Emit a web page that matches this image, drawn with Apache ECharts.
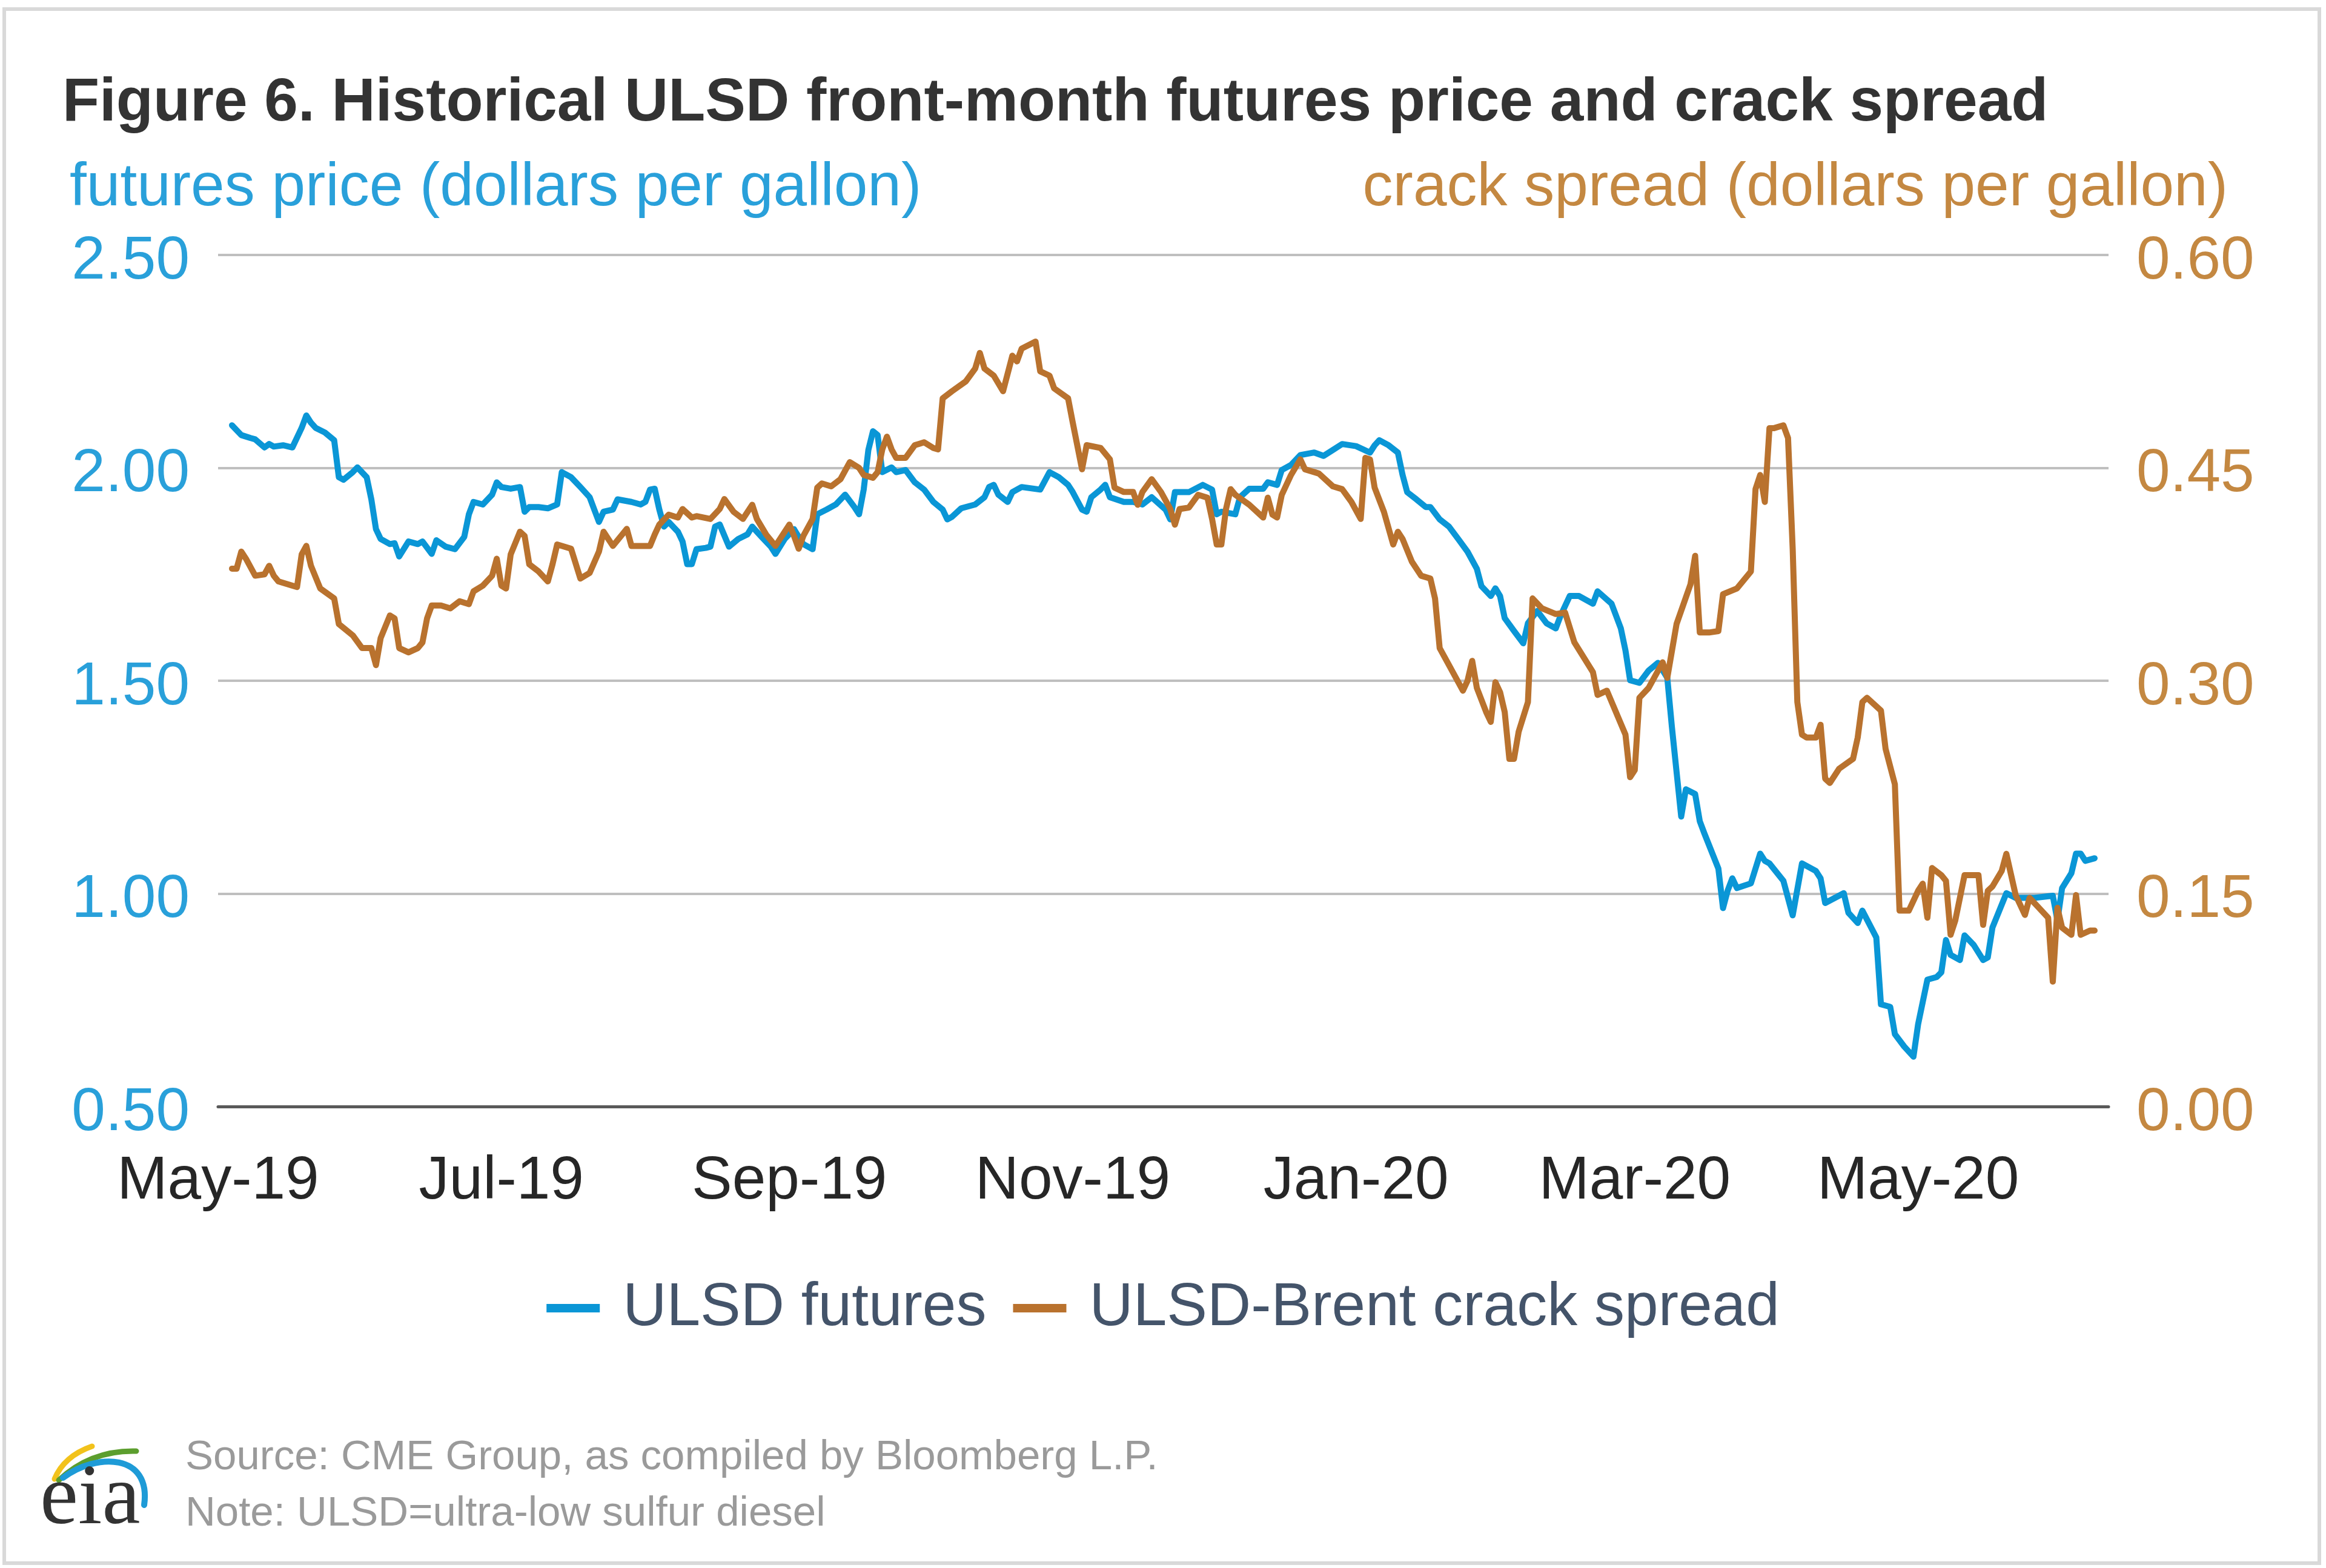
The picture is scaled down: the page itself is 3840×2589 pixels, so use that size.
<!DOCTYPE html>
<html>
<head>
<meta charset="utf-8">
<script src="https://cdn.jsdelivr.net/npm/echarts@6/dist/echarts.min.js"></script>
<style>
html,body{margin:0;padding:0;background:#ffffff;}
#chart{width:3840px;height:2589px;}
</style>
</head>
<body>
<div id="chart"></div>
<script>
// ---------- data ----------
const axisStart = '2019-05-01';
const axisEnd = '2020-06-11';
const monthNames = ['Jan','Feb','Mar','Apr','May','Jun','Jul','Aug','Sep','Oct','Nov','Dec'];
const labelMonths = [5, 7, 9, 11, 1, 3];           // May, Jul, Sep, Nov, Jan, Mar
const priceTicks = [0.5, 1.0, 1.5, 2.0, 2.5];      // left axis (dollars per gallon)
const crackTicks = [0, 0.15, 0.30, 0.45, 0.60];    // right axis (dollars per gallon)

const ulsdFutures = [
['2019-05-04',2.10],['2019-05-06',2.077],['2019-05-08',2.07],['2019-05-09',2.067],['2019-05-11',2.048],
['2019-05-12',2.056],['2019-05-13',2.05],['2019-05-15',2.053],['2019-05-17',2.048],['2019-05-19',2.094],
['2019-05-20',2.123],['2019-05-21',2.106],['2019-05-22',2.094],['2019-05-24',2.083],['2019-05-26',2.065],
['2019-05-27',1.978],['2019-05-28',1.972],['2019-05-30',1.99],['2019-05-31',2.001],['2019-06-02',1.978],
['2019-06-03',1.926],['2019-06-04',1.856],['2019-06-05',1.833],['2019-06-07',1.821],['2019-06-08',1.823],
['2019-06-09',1.792],['2019-06-11',1.827],['2019-06-13',1.821],['2019-06-14',1.827],['2019-06-16',1.798],
['2019-06-17',1.83],['2019-06-19',1.815],['2019-06-21',1.809],['2019-06-23',1.838],['2019-06-24',1.891],
['2019-06-25',1.92],['2019-06-27',1.914],['2019-06-29',1.937],['2019-06-30',1.966],['2019-07-01',1.955],
['2019-07-03',1.951],['2019-07-05',1.955],['2019-07-06',1.897],['2019-07-07',1.908],['2019-07-09',1.908],
['2019-07-11',1.905],['2019-07-13',1.914],['2019-07-14',1.99],['2019-07-16',1.978],['2019-07-18',1.955],
['2019-07-20',1.931],['2019-07-21',1.902],['2019-07-22',1.873],['2019-07-23',1.897],['2019-07-25',1.902],
['2019-07-26',1.926],['2019-07-29',1.92],['2019-07-31',1.914],['2019-08-01',1.92],['2019-08-02',1.949],
['2019-08-03',1.951],['2019-08-04',1.902],['2019-08-05',1.862],['2019-08-06',1.873],['2019-08-08',1.85],
['2019-08-09',1.827],['2019-08-10',1.774],['2019-08-11',1.774],['2019-08-12',1.809],['2019-08-14',1.812],
['2019-08-15',1.815],['2019-08-16',1.862],['2019-08-17',1.867],['2019-08-19',1.815],['2019-08-21',1.833],
['2019-08-23',1.844],['2019-08-24',1.862],['2019-08-26',1.838],['2019-08-28',1.815],['2019-08-29',1.798],
['2019-08-31',1.833],['2019-09-02',1.856],['2019-09-03',1.838],['2019-09-04',1.821],['2019-09-06',1.809],
['2019-09-07',1.891],['2019-09-09',1.902],['2019-09-11',1.914],['2019-09-13',1.937],['2019-09-15',1.908],
['2019-09-16',1.891],['2019-09-17',1.949],['2019-09-18',2.042],['2019-09-19',2.086],['2019-09-20',2.077],
['2019-09-21',1.99],['2019-09-23',2.001],['2019-09-24',1.99],['2019-09-26',1.995],['2019-09-28',1.966],
['2019-09-30',1.949],['2019-10-02',1.92],['2019-10-04',1.902],['2019-10-05',1.879],['2019-10-06',1.885],
['2019-10-08',1.905],['2019-10-11',1.914],['2019-10-13',1.931],['2019-10-14',1.955],['2019-10-15',1.96],
['2019-10-16',1.937],['2019-10-18',1.92],['2019-10-19',1.943],['2019-10-21',1.955],['2019-10-25',1.949],
['2019-10-27',1.99],['2019-10-29',1.978],['2019-10-31',1.96],['2019-11-01',1.943],['2019-11-03',1.902],
['2019-11-04',1.897],['2019-11-05',1.931],['2019-11-07',1.949],['2019-11-08',1.96],['2019-11-09',1.931],
['2019-11-12',1.92],['2019-11-14',1.92],['2019-11-16',1.914],['2019-11-18',1.931],['2019-11-21',1.902],
['2019-11-22',1.879],['2019-11-23',1.943],['2019-11-26',1.943],['2019-11-29',1.96],['2019-12-01',1.949],
['2019-12-02',1.891],['2019-12-03',1.897],['2019-12-06',1.891],['2019-12-07',1.931],['2019-12-09',1.951],
['2019-12-12',1.951],['2019-12-13',1.966],['2019-12-15',1.96],['2019-12-16',1.995],['2019-12-18',2.007],
['2019-12-20',2.03],['2019-12-23',2.036],['2019-12-25',2.028],['2019-12-27',2.042],['2019-12-29',2.056],
['2020-01-01',2.051],['2020-01-04',2.036],['2020-01-05',2.053],['2020-01-06',2.065],['2020-01-08',2.053],
['2020-01-10',2.036],['2020-01-11',1.984],['2020-01-12',1.943],['2020-01-14',1.926],['2020-01-16',1.908],
['2020-01-17',1.908],['2020-01-19',1.879],['2020-01-21',1.862],['2020-01-23',1.833],['2020-01-25',1.803],
['2020-01-27',1.763],['2020-01-28',1.722],['2020-01-30',1.699],['2020-01-31',1.717],['2020-02-01',1.699],
['2020-02-02',1.647],['2020-02-04',1.617],['2020-02-06',1.588],['2020-02-07',1.635],['2020-02-09',1.664],
['2020-02-11',1.635],['2020-02-13',1.623],['2020-02-14',1.652],['2020-02-16',1.699],['2020-02-18',1.699],
['2020-02-21',1.681],['2020-02-22',1.71],['2020-02-25',1.681],['2020-02-27',1.623],['2020-02-28',1.571],
['2020-02-29',1.501],['2020-03-02',1.495],['2020-03-04',1.524],['2020-03-06',1.542],['2020-03-08',1.507],
['2020-03-09',1.391],['2020-03-10',1.286],['2020-03-11',1.181],['2020-03-12',1.245],['2020-03-14',1.234],
['2020-03-15',1.17],['2020-03-16',1.141],['2020-03-19',1.059],['2020-03-20',0.966],['2020-03-21',1.007],
['2020-03-22',1.036],['2020-03-23',1.013],['2020-03-26',1.024],['2020-03-28',1.094],['2020-03-29',1.077],
['2020-03-30',1.071],['2020-04-02',1.03],['2020-04-04',0.949],['2020-04-06',1.071],['2020-04-09',1.053],
['2020-04-10',1.036],['2020-04-11',0.978],['2020-04-15',1.001],['2020-04-16',0.955],['2020-04-18',0.931],
['2020-04-19',0.96],['2020-04-22',0.897],['2020-04-23',0.74],['2020-04-25',0.734],['2020-04-26',0.67],
['2020-04-28',0.641],['2020-04-30',0.617],['2020-05-01',0.693],['2020-05-03',0.798],['2020-05-05',0.804],
['2020-05-06',0.815],['2020-05-07',0.891],['2020-05-08',0.856],['2020-05-10',0.844],['2020-05-11',0.902],
['2020-05-13',0.879],['2020-05-15',0.844],['2020-05-16',0.85],['2020-05-17',0.92],['2020-05-20',1.001],
['2020-05-22',0.99],['2020-05-26',0.99],['2020-05-30',0.995],['2020-05-31',0.937],['2020-06-01',1.013],
['2020-06-03',1.048],['2020-06-04',1.094],['2020-06-05',1.094],['2020-06-06',1.077],['2020-06-08',1.083]
];

const crackSpread = [
['2019-05-04',0.379],['2019-05-05',0.379],['2019-05-06',0.391],['2019-05-07',0.386],['2019-05-09',0.374],
['2019-05-11',0.375],['2019-05-12',0.381],['2019-05-13',0.374],['2019-05-14',0.37],['2019-05-17',0.367],
['2019-05-18',0.366],['2019-05-19',0.389],['2019-05-20',0.395],['2019-05-21',0.381],['2019-05-23',0.365],
['2019-05-26',0.358],['2019-05-27',0.34],['2019-05-30',0.332],['2019-06-01',0.323],['2019-06-03',0.323],
['2019-06-04',0.311],['2019-06-05',0.33],['2019-06-07',0.346],['2019-06-08',0.344],['2019-06-09',0.323],
['2019-06-11',0.32],['2019-06-13',0.323],['2019-06-14',0.327],['2019-06-15',0.344],['2019-06-16',0.353],
['2019-06-18',0.353],['2019-06-20',0.351],['2019-06-22',0.356],['2019-06-24',0.354],['2019-06-25',0.363],
['2019-06-27',0.367],['2019-06-29',0.374],['2019-06-30',0.386],['2019-07-01',0.367],['2019-07-02',0.365],
['2019-07-03',0.389],['2019-07-05',0.405],['2019-07-06',0.402],['2019-07-07',0.382],['2019-07-09',0.377],
['2019-07-11',0.37],['2019-07-12',0.382],['2019-07-13',0.396],['2019-07-16',0.393],['2019-07-18',0.372],
['2019-07-20',0.376],['2019-07-22',0.391],['2019-07-23',0.405],['2019-07-24',0.40],['2019-07-25',0.395],
['2019-07-27',0.403],['2019-07-28',0.407],['2019-07-29',0.395],['2019-07-31',0.395],['2019-08-02',0.395],
['2019-08-03',0.403],['2019-08-04',0.41],['2019-08-06',0.417],['2019-08-08',0.415],['2019-08-09',0.421],
['2019-08-11',0.415],['2019-08-12',0.416],['2019-08-15',0.414],['2019-08-17',0.421],['2019-08-18',0.428],
['2019-08-20',0.419],['2019-08-22',0.414],['2019-08-24',0.424],['2019-08-25',0.414],['2019-08-27',0.403],
['2019-08-29',0.395],['2019-08-31',0.405],['2019-09-01',0.41],['2019-09-02',0.402],['2019-09-03',0.393],
['2019-09-04',0.402],['2019-09-06',0.414],['2019-09-07',0.436],['2019-09-08',0.439],['2019-09-10',0.437],
['2019-09-12',0.442],['2019-09-14',0.454],['2019-09-16',0.45],['2019-09-17',0.445],['2019-09-19',0.443],
['2019-09-20',0.447],['2019-09-21',0.463],['2019-09-22',0.472],['2019-09-23',0.463],['2019-09-24',0.457],
['2019-09-26',0.457],['2019-09-28',0.466],['2019-09-29',0.467],['2019-09-30',0.468],['2019-10-02',0.464],
['2019-10-03',0.463],['2019-10-04',0.499],['2019-10-06',0.504],['2019-10-09',0.511],['2019-10-11',0.52],
['2019-10-12',0.531],['2019-10-13',0.52],['2019-10-15',0.515],['2019-10-17',0.504],['2019-10-19',0.529],
['2019-10-20',0.525],['2019-10-21',0.534],['2019-10-24',0.539],['2019-10-25',0.518],['2019-10-27',0.515],
['2019-10-28',0.506],['2019-10-31',0.499],['2019-11-01',0.482],['2019-11-03',0.449],['2019-11-04',0.466],
['2019-11-07',0.464],['2019-11-09',0.456],['2019-11-10',0.436],['2019-11-12',0.433],['2019-11-14',0.433],
['2019-11-15',0.424],['2019-11-16',0.433],['2019-11-18',0.442],['2019-11-20',0.433],['2019-11-22',0.421],
['2019-11-23',0.41],['2019-11-24',0.421],['2019-11-26',0.422],['2019-11-28',0.431],['2019-11-30',0.429],
['2019-12-01',0.414],['2019-12-02',0.396],['2019-12-03',0.396],['2019-12-04',0.421],['2019-12-05',0.435],
['2019-12-06',0.431],['2019-12-09',0.424],['2019-12-12',0.415],['2019-12-13',0.429],['2019-12-14',0.417],
['2019-12-15',0.415],['2019-12-16',0.431],['2019-12-18',0.445],['2019-12-20',0.456],['2019-12-21',0.449],
['2019-12-24',0.446],['2019-12-27',0.437],['2019-12-29',0.435],['2019-12-31',0.426],['2020-01-02',0.414],
['2020-01-03',0.457],['2020-01-04',0.456],['2020-01-05',0.436],['2020-01-07',0.419],['2020-01-09',0.396],
['2020-01-10',0.405],['2020-01-11',0.40],['2020-01-13',0.384],['2020-01-15',0.374],['2020-01-17',0.372],
['2020-01-18',0.358],['2020-01-19',0.323],['2020-01-21',0.311],['2020-01-24',0.293],['2020-01-25',0.30],
['2020-01-26',0.314],['2020-01-27',0.295],['2020-01-29',0.278],['2020-01-30',0.271],['2020-01-31',0.299],
['2020-02-01',0.292],['2020-02-02',0.278],['2020-02-03',0.245],['2020-02-04',0.245],['2020-02-05',0.264],
['2020-02-07',0.285],['2020-02-08',0.358],['2020-02-10',0.351],['2020-02-13',0.347],['2020-02-15',0.348],
['2020-02-17',0.327],['2020-02-21',0.306],['2020-02-22',0.29],['2020-02-24',0.293],['2020-02-28',0.262],
['2020-02-29',0.232],['2020-03-01',0.237],['2020-03-02',0.288],['2020-03-04',0.295],['2020-03-07',0.313],
['2020-03-08',0.302],['2020-03-10',0.34],['2020-03-13',0.368],['2020-03-14',0.388],['2020-03-15',0.334],
['2020-03-17',0.334],['2020-03-19',0.335],['2020-03-20',0.361],['2020-03-23',0.365],['2020-03-26',0.377],
['2020-03-27',0.435],['2020-03-28',0.445],['2020-03-29',0.426],['2020-03-30',0.478],['2020-03-31',0.478],
['2020-04-02',0.48],['2020-04-03',0.471],['2020-04-04',0.393],['2020-04-05',0.285],['2020-04-06',0.262],
['2020-04-07',0.26],['2020-04-09',0.26],['2020-04-10',0.269],['2020-04-11',0.231],['2020-04-12',0.228],
['2020-04-14',0.238],['2020-04-17',0.245],['2020-04-18',0.26],['2020-04-19',0.285],['2020-04-20',0.288],
['2020-04-23',0.279],['2020-04-24',0.252],['2020-04-26',0.227],['2020-04-27',0.138],['2020-04-29',0.138],
['2020-05-01',0.152],['2020-05-02',0.157],['2020-05-03',0.133],['2020-05-04',0.168],['2020-05-06',0.163],
['2020-05-07',0.159],['2020-05-08',0.121],['2020-05-09',0.131],['2020-05-11',0.163],['2020-05-14',0.163],
['2020-05-15',0.128],['2020-05-16',0.152],['2020-05-17',0.155],['2020-05-19',0.166],['2020-05-20',0.178],
['2020-05-22',0.149],['2020-05-24',0.135],['2020-05-25',0.147],['2020-05-27',0.14],['2020-05-29',0.133],
['2020-05-30',0.088],['2020-05-31',0.14],['2020-06-01',0.126],['2020-06-03',0.121],['2020-06-04',0.149],
['2020-06-05',0.121],['2020-06-07',0.124],['2020-06-08',0.124]
];

// ---------- build daily category axis ----------
const DAY = 86400000;
const categories = [];
for (let t = Date.parse(axisStart + 'T00:00:00Z'); t <= Date.parse(axisEnd + 'T00:00:00Z'); t += DAY) {
  categories.push(new Date(t).toISOString().slice(0, 10));
}
function align(pairs) {
  const m = new Map(pairs);
  return categories.map(d => (m.has(d) ? m.get(d) : null));
}

const FONT = '"Liberation Sans", Arial, Helvetica, sans-serif';
const BLUE_LINE = '#0A96D6';
const BLUE_TEXT = '#29A0DA';
const ORANGE_LINE = '#B9722E';
const ORANGE_TEXT = '#C48841';

const chart = echarts.init(document.getElementById('chart'), null, {renderer: 'canvas'});
chart.setOption({
  animation: false,
  backgroundColor: '#ffffff',
  title: [
    {text: 'Figure 6. Historical ULSD front-month futures price and crack spread', left: 98, top: 116,
     textStyle: {fontFamily: FONT, fontSize: 100, fontWeight: 'bold', color: '#333333'}},
    {text: 'futures price (dollars per gallon)', left: 110, top: 256,
     textStyle: {fontFamily: FONT, fontSize: 100, fontWeight: 'normal', color: BLUE_TEXT}},
    {text: 'crack spread (dollars per gallon)', right: 157, top: 256,
     textStyle: {fontFamily: FONT, fontSize: 100, fontWeight: 'normal', color: ORANGE_TEXT}},
    {text: 'Source: CME Group, as compiled by Bloomberg L.P.', left: 301, top: 2367,
     textStyle: {fontFamily: FONT, fontSize: 69, fontWeight: 'normal', color: '#9A9A9A'}},
    {text: 'Note: ULSD=ultra-low sulfur diesel', left: 301, top: 2460,
     textStyle: {fontFamily: FONT, fontSize: 69, fontWeight: 'normal', color: '#9A9A9A'}}
  ],
  legend: {
    top: 2105, left: 'center', icon: 'rect', itemWidth: 88, itemHeight: 14, itemGap: 44,
    textStyle: {fontFamily: FONT, fontSize: 100, color: '#44546A', padding: [0, 0, 0, 33]},
    data: ['ULSD futures', 'ULSD-Brent crack spread']
  },
  grid: {left: 360, right: 359, top: 421, bottom: 762, containLabel: false, outerBoundsMode: 'none'},
  xAxis: {
    type: 'category', data: categories, boundaryGap: false,
    axisLine: {show: true, lineStyle: {color: '#595959', width: 5}},
    axisTick: {show: false},
    splitLine: {show: false},
    axisLabel: {
      fontFamily: FONT, fontSize: 100, color: '#262626', margin: 74,
      interval: (idx, val) => val.slice(8) === '01' && labelMonths.includes(+val.slice(5, 7)),
      formatter: val => monthNames[+val.slice(5, 7) - 1] + '-' + val.slice(2, 4)
    }
  },
  yAxis: [
    {type: 'value', position: 'left', min: priceTicks[0], max: priceTicks[priceTicks.length - 1],
     interval: priceTicks[1] - priceTicks[0],
     axisLine: {show: false}, axisTick: {show: false},
     axisLabel: {fontFamily: FONT, fontSize: 100, color: BLUE_TEXT, margin: 47,
                 verticalAlign: 'top', lineHeight: 22, formatter: v => v.toFixed(2)},
     splitLine: {show: true, lineStyle: {color: '#BFBFBF', width: 4}}},
    {type: 'value', position: 'right', min: crackTicks[0], max: crackTicks[crackTicks.length - 1],
     interval: crackTicks[1] - crackTicks[0],
     axisLine: {show: false}, axisTick: {show: false},
     axisLabel: {fontFamily: FONT, fontSize: 100, color: ORANGE_TEXT, margin: 46,
                 verticalAlign: 'top', lineHeight: 22, formatter: v => v.toFixed(2)},
     splitLine: {show: false}}
  ],
  series: [
    {name: 'ULSD futures', type: 'line', yAxisIndex: 0, data: align(ulsdFutures), connectNulls: true,
     symbol: 'none', showSymbol: false,
     lineStyle: {color: BLUE_LINE, width: 10, join: 'round', cap: 'round'}, itemStyle: {color: BLUE_LINE},
     emphasis: {disabled: true}},
    {name: 'ULSD-Brent crack spread', type: 'line', yAxisIndex: 1, data: align(crackSpread), connectNulls: true,
     symbol: 'none', showSymbol: false,
     lineStyle: {color: ORANGE_LINE, width: 10, join: 'round', cap: 'round'}, itemStyle: {color: ORANGE_LINE},
     emphasis: {disabled: true}}
  ],
  graphic: [
    {type: 'rect', silent: true, z: -1, shape: {x: 7, y: 15, width: 3822, height: 2566},
     style: {fill: 'none', stroke: '#D9D9D9', lineWidth: 6}},
    {type: 'bezierCurve', silent: true, shape: {x1: 90, y1: 2442, x2: 152, y2: 2388, cpx1: 106, cpy1: 2404},
     style: {fill: 'none', stroke: '#F2C21B', lineWidth: 9, lineCap: 'round'}},
    {type: 'bezierCurve', silent: true, shape: {x1: 97, y1: 2444, x2: 225, y2: 2396, cpx1: 150, cpy1: 2394},
     style: {fill: 'none', stroke: '#5C9E2E', lineWidth: 9, lineCap: 'round'}},
    {type: 'bezierCurve', silent: true,
     shape: {x1: 104, y1: 2440, x2: 238, y2: 2485, cpx1: 160, cpy1: 2398, cpx2: 250, cpy2: 2400},
     style: {fill: 'none', stroke: '#1E9BD7', lineWidth: 10, lineCap: 'round'}},
    {type: 'text', silent: true, x: 66, y: 2478,
     style: {text: 'eia', font: '142px "Liberation Serif", "Times New Roman", serif', fill: '#333333',
             textAlign: 'left', textVerticalAlign: 'middle', verticalAlign: 'middle'}}
  ]
});
</script>
</body>
</html>
